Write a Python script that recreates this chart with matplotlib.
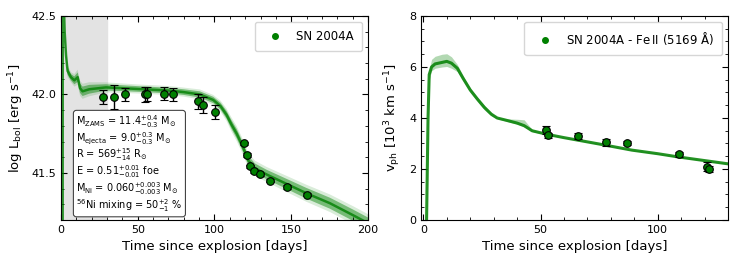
import numpy as np
import matplotlib
matplotlib.use("Agg")
import matplotlib.pyplot as plt
from matplotlib.ticker import MultipleLocator
from matplotlib.lines import Line2D

plt.rcParams['font.family'] = 'DejaVu Sans'
plt.rcParams['mathtext.default'] = 'regular'

# observed bolometric light curve
lc_t = [27.2, 34.8, 41.9, 54.9, 55.8, 66.9, 73.0, 89.4, 92.7, 100.5,
        119.4, 121.2, 123.1, 125.5, 129.4, 136.4, 147.0, 160.1]
lc_logL = [41.986, 41.986, 42.0, 42.0, 42.003, 42.005, 42.0, 41.956, 41.935, 41.89,
           41.69, 41.614, 41.542, 41.51, 41.49, 41.45, 41.41, 41.36]
lc_err = [0.045, 0.076, 0.04, 0.045, 0.045, 0.04, 0.04, 0.05, 0.05, 0.045,
          0.01, 0.01, 0.01, 0.01, 0.01, 0.01, 0.01, 0.01]

# observed Fe II velocities (10^3 km/s)
vel_t = [52.2, 53.3, 66.1, 78.0, 87.0, 108.9, 121.0, 122.0]
vel_v = [3.54, 3.33, 3.30, 3.04, 3.02, 2.57, 2.09, 2.00]
vel_err = [0.15, 0.1, 0.12, 0.12, 0.08, 0.08, 0.18, 0.1]

# model light curve (centre + spread)
mod_t = [1.0, 1.2, 1.8, 2.4, 3.3, 4.3, 6.5, 8.7, 10.9, 12.4, 14.1, 18.4, 29.3, 50, 70,
         80, 90.5, 99.2, 104, 107.9, 111, 114.5, 118.8, 122.0, 126.4, 134, 147, 160,
         175.2, 190.4, 200]
mod_L = [38, 44, 42.6, 42.40, 42.25, 42.15, 42.11, 42.09, 42.11, 42.04, 42.02, 42.033,
         42.045, 42.035, 42.025, 42.015, 42.0, 41.965, 41.925, 41.87, 41.81, 41.75, 41.66,
         41.58, 41.53, 41.49, 41.43, 41.37, 41.307, 41.23, 41.18]
mod_dL = [0, 0, 0.01, 0.015, 0.02, 0.025, 0.02, 0.025, 0.03, 0.03, 0.03, 0.028,
          0.02, 0.018, 0.018, 0.018, 0.02, 0.02, 0.022, 0.025, 0.028, 0.03, 0.03,
          0.03, 0.03, 0.03, 0.032, 0.034, 0.035, 0.036, 0.036]

# model velocity
mv_t = [1.3, 2.0, 2.5, 3.5, 5, 8, 10, 12, 14.5, 17, 20, 23, 26, 29, 31.5, 35, 40, 43,
        46.4, 50, 55, 60, 66, 75, 89, 100, 109, 120, 131]
mv_v = [-0.5, 4.0, 5.7, 6.0, 6.12, 6.18, 6.22, 6.15, 5.95, 5.55, 5.1, 4.75, 4.42, 4.15,
        4.0, 3.92, 3.8, 3.7, 3.5, 3.42, 3.32, 3.23, 3.13, 2.98, 2.74, 2.6, 2.47, 2.33, 2.19]
mv_hi = [-0.5, 4.2, 5.9, 6.3, 6.42, 6.5, 6.52, 6.4, 6.1, 5.65, 5.18, 4.82, 4.5, 4.2,
         4.03, 3.97, 3.95, 3.93, 3.55, 3.45, 3.34, 3.25, 3.15, 3.0, 2.76, 2.62, 2.49, 2.35, 2.21]
mv_lo = [-0.5, 3.8, 5.5, 5.85, 5.95, 6.0, 6.02, 5.95, 5.82, 5.45, 5.0, 4.65, 4.32, 4.08,
         3.97, 3.88, 3.76, 3.65, 3.46, 3.39, 3.3, 3.21, 3.11, 2.96, 2.72, 2.58, 2.45, 2.31, 2.17]

params = [r'M$_{\rm ZAMS}$ = 11.4$^{+0.4}_{-0.3}$ M$_{\odot}$',
          r'M$_{\rm ejecta}$ = 9.0$^{+0.3}_{-0.3}$ M$_{\odot}$',
          r'R = 569$^{+15}_{-14}$ R$_{\odot}$',
          r'E = 0.51$^{+0.01}_{-0.01}$ foe',
          r'M$_{\rm Ni}$ = 0.060$^{+0.003}_{-0.003}$ M$_{\odot}$',
          r'$^{56}$Ni mixing = 50$^{+2}_{-1}$ %']

fig = plt.figure(figsize=(7.39, 2.63), dpi=100)
ax1 = fig.add_axes([0.0825, 0.1635, 0.4154, 0.7757])
ax2 = fig.add_axes([0.5697, 0.1635, 0.4154, 0.7757])

# left: light curve
ax1.axvspan(0, 30, color='#e3e3e3', zorder=0)
mL = np.array(mod_L)
dL = np.array(mod_dL)
ax1.fill_between(mod_t, mL - 1.6 * dL, mL + 1.6 * dL, color='green', alpha=0.15, lw=0)
ax1.fill_between(mod_t, mL - dL, mL + dL, color='green', alpha=0.45, lw=0)
ax1.plot(mod_t, mod_L, color='green', lw=1.8, alpha=0.8)
ax1.errorbar(lc_t, lc_logL, yerr=lc_err, fmt='o', color='green', mec='black', mew=0.8,
             ms=5.5, ecolor='black', elinewidth=1, capsize=3, zorder=5)
ax1.set_xlim(0, 200)
ax1.set_ylim(41.2, 42.5)
ax1.xaxis.set_major_locator(MultipleLocator(50))
ax1.xaxis.set_minor_locator(MultipleLocator(10))
ax1.yaxis.set_major_locator(MultipleLocator(0.5))
ax1.yaxis.set_minor_locator(MultipleLocator(0.1))
ax1.set_xlabel('Time since explosion [days]', fontsize=9.5)
ax1.set_ylabel(r'log L$_{\rm bol}$ [erg s$^{-1}$]', fontsize=9.5)
h1 = Line2D([], [], ls='none', marker='o', color='green', ms=4)
ax1.legend([h1], ['SN 2004A'], loc='upper right', fontsize=8.5, borderpad=0.7)
ax1.text(0.05, 0.03, '\n'.join(params), transform=ax1.transAxes, fontsize=7.0,
         va='bottom', ha='left', linespacing=1.0,
         bbox=dict(boxstyle='round,pad=0.3', fc='white', ec='#444444', lw=0.8))

# right: velocity
ax2.fill_between(mv_t, mv_lo, mv_hi, color='green', alpha=0.3, lw=0)
ax2.plot(mv_t, mv_v, color='green', lw=2.2, alpha=0.85)
ax2.errorbar(vel_t, vel_v, yerr=vel_err, fmt='o', color='green', mec='black', mew=0.8,
             ms=5.5, ecolor='black', elinewidth=1, capsize=3, zorder=5)
ax2.set_xlim(-1, 130)
ax2.set_ylim(0, 8)
ax2.xaxis.set_major_locator(MultipleLocator(50))
ax2.xaxis.set_minor_locator(MultipleLocator(10))
ax2.yaxis.set_major_locator(MultipleLocator(2))
ax2.yaxis.set_minor_locator(MultipleLocator(0.5))
ax2.set_xlabel('Time since explosion [days]', fontsize=9.5)
ax2.set_ylabel(r'v$_{\rm ph}$ [10$^3$ km s$^{-1}$]', fontsize=9.5)
h2 = Line2D([], [], ls='none', marker='o', color='green', ms=4)
ax2.legend([h2], [r'SN 2004A - Fe$\,$II (5169 $\rm\AA$)'], loc='upper right',
           fontsize=8.5, borderpad=0.7)

for ax in (ax1, ax2):
    ax.tick_params(which='both', direction='in', top=True, right=True, labelsize=8)
    ax.tick_params(which='major', length=4)
    ax.tick_params(which='minor', length=2)

fig.savefig('out.png', dpi=100)
